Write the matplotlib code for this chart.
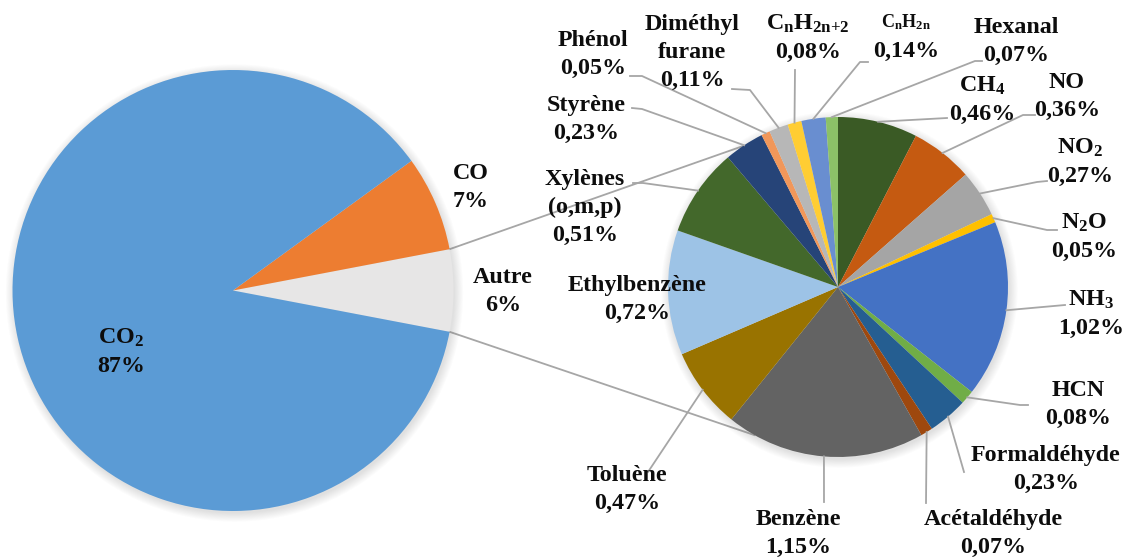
import numpy as np
import matplotlib
matplotlib.use('Agg')
import matplotlib.pyplot as plt
from matplotlib.patches import Circle

plt.rcParams['font.family'] = 'Liberation Serif'
plt.rcParams['font.weight'] = 'bold'
plt.rcParams['mathtext.fontset'] = 'custom'
plt.rcParams['mathtext.rm'] = 'Liberation Serif:bold'
plt.rcParams['mathtext.it'] = 'Liberation Serif:bold'
plt.rcParams['mathtext.bf'] = 'Liberation Serif:bold'
plt.rcParams['mathtext.default'] = 'rm'

# main composition (%)
main_names = ['CO$_2$', 'CO', 'Autre']
main_values = [87, 7, 6]
main_colors = ['#5B9BD5', '#ED7D31', '#E7E6E6']

# breakdown of "Autre" (%), clockwise from the top
detail_names = ['CH$_4$', 'NO', 'NO$_2$', 'N$_2$O', 'NH$_3$', 'HCN',
                'Formaldéhyde', 'Acétaldéhyde', 'Benzène', 'Toluène',
                'Ethylbenzène', 'Xylènes\n(o,m,p)', 'Styrène', 'Phénol',
                'Diméthyl\nfurane', 'C$_n$H$_{2n{+}2}$', 'C$_n$H$_{2n}$', 'Hexanal']
detail_values = [0.46, 0.36, 0.27, 0.05, 1.02, 0.08, 0.23, 0.07, 1.15, 0.47,
                 0.72, 0.51, 0.23, 0.05, 0.11, 0.08, 0.14, 0.07]
detail_colors = ['#3A5A25', '#C55A11', '#A5A5A5', '#FFC000', '#4472C4', '#70AD47',
                 '#255E91', '#9E480E', '#636363', '#997300', '#9DC3E6', '#43682B',
                 '#264478', '#F1975A', '#B7B7B7', '#FFCD33', '#698ED0', '#8CC168']

W, H = 1131, 557
FS = 17.3
GAP = 28
LINE_C = '#A6A6A6'

# label block centres and leader paths, in pixels from the top-left corner
main_label_pos = [(121, 350), (471, 185), (503, 289)]
detail_label_pos = [(982, 98), (1067, 94), (1080, 160), (1084, 235), (1091, 312),
                    (1078, 402), (1046, 467), (993, 531), (798, 531), (627, 487),
                    (637, 297), (585, 205), (586, 117), (593, 52), (692, 50),
                    (808, 36), (906, 35), (1016, 39)]
leaders = [[(947, 118)], [(1035, 115), (1023, 115)], [(1047, 181), (1037, 182)],
           [(1057, 230), (1047, 230)], [(1065, 305)], [(1028, 405), (1020, 405)],
           [(964, 472)], [(926, 503)], [(824, 502)], [(648, 472)], [],
           [(633, 183), (643, 183)], [(632, 108), (642, 109)], [(630, 76), (642, 76)],
           [(732, 89), (750, 90)], [(795, 70)], [(868, 62), (860, 62)],
           [(982, 61), (975, 61)]]


def P(x, y):
    return x, H - y


fig = plt.figure(figsize=(W / 100, H / 100), dpi=100)
ax = fig.add_axes([0, 0, 1, 1])


def shadow(c, r):
    for k in range(10):
        ax.add_patch(Circle((c[0] + 1.5, c[1] - 2.5), r + k * 0.9, fc='#7F7F7F',
                            alpha=0.022, lw=0, zorder=0.5))


def put_label(x, y, text, sizes=None):
    lines = text.split('\n')
    n = len(lines)
    for i, line in enumerate(lines):
        fs = sizes[i] if sizes else FS
        yc = y + (i - (n - 1) / 2) * GAP
        ax.text(x, H - (yc + 0.46 * fs), line, ha='center', va='baseline',
                fontsize=fs, color='#0D0D0D', zorder=5)


left_c, left_r = P(233, 290.5), 220.5
right_c, right_r = P(838, 287), 170

shadow(left_c, left_r)
shadow(right_c, right_r)

# left pie: "Autre" centred on the right-hand side
tot = sum(main_values)
wl, _ = ax.pie(main_values[::-1], colors=main_colors[::-1],
               startangle=-180 * main_values[-1] / tot, center=left_c,
               radius=left_r, frame=True, wedgeprops=dict(linewidth=0))
wl = wl[::-1]

wr, _ = ax.pie(detail_values, colors=detail_colors, startangle=90,
               counterclock=False, center=right_c, radius=right_r, frame=True,
               wedgeprops=dict(linewidth=0))

# connectors between the "Autre" slice and the detail pie
autre = wl[2]
for th, phi in [(autre.theta2, 124), (autre.theta1, 240.6)]:
    a, b = np.radians(th), np.radians(phi)
    ax.plot([left_c[0] + left_r * np.cos(a), right_c[0] + right_r * np.cos(b)],
            [left_c[1] + left_r * np.sin(a), right_c[1] + right_r * np.sin(b)],
            color=LINE_C, lw=1.3, zorder=0.4)

for name, v, (x, y) in zip(main_names, main_values, main_label_pos):
    put_label(x, y, f'{name}\n{v}%')

for w, name, v, (x, y), path in zip(wr, detail_names, detail_values,
                                    detail_label_pos, leaders):
    label = f'{name}\n{v:.2f}'.replace('.', ',') + '%'
    sizes = None
    if name == 'C$_n$H$_{2n}$':
        sizes = [13, FS]
    put_label(x, y, label, sizes)
    if path:
        m = np.radians((w.theta1 + w.theta2) / 2)
        pts = [P(*p) for p in path]
        pts.append((right_c[0] + right_r * np.cos(m), right_c[1] + right_r * np.sin(m)))
        xs, ys = zip(*pts)
        ax.plot(xs, ys, color=LINE_C, lw=1.3, zorder=3)

ax.set_xlim(0, W)
ax.set_ylim(0, H)
ax.axis('off')
fig.savefig('out.png', dpi=100)
